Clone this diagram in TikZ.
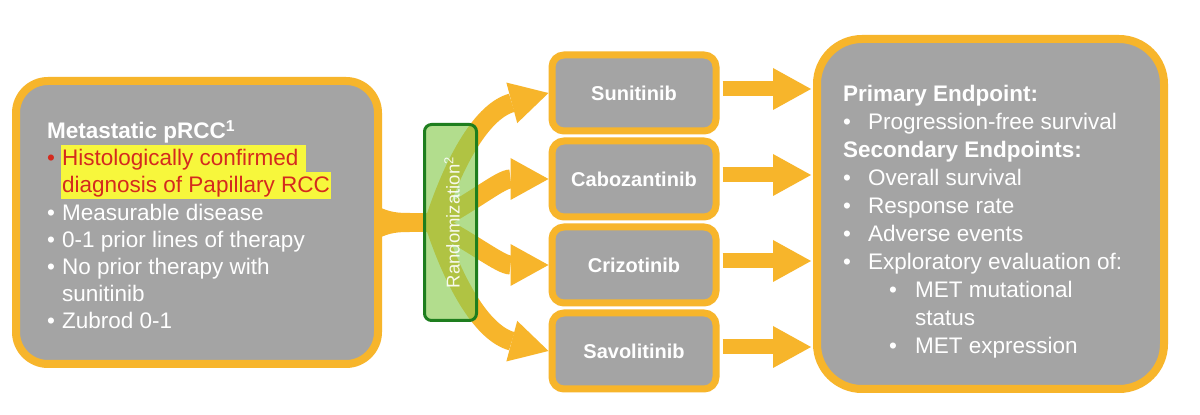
\documentclass[tikz,border=0pt]{standalone}
\usepackage{fontspec}
\setmainfont{Liberation Sans}
\usetikzlibrary{arrows.meta,positioning}
\definecolor{armc}{HTML}{F7B52B}
\definecolor{boxc}{HTML}{A4A4A4}
\definecolor{randc}{HTML}{1E7E1E}
\definecolor{randfill}{HTML}{8ACC51}
\definecolor{hlc}{HTML}{F7F73C}
\definecolor{redc}{HTML}{D42A1E}

\begin{document}
\begin{tikzpicture}[x=1pt,y=1pt,
    bigbox/.style={draw=armc, line width=8pt, fill=boxc, inner sep=0pt},
    drugbox/.style={draw=armc, line width=7pt, fill=boxc, rounded corners=12pt,
      minimum width=164pt, minimum height=76pt, text=white,
      font=\fontsize{20}{22}\selectfont\bfseries},
    randbox/.style={draw=randc, line width=3pt, fill=randfill, fill opacity=0.65,
      rounded corners=7pt, minimum width=52pt, minimum height=196pt},
    fanarrow/.style={armc, line width=19pt,
      -{Triangle[width=42pt,length=38pt,line width=0pt]}},
    endarrow/.style={armc, line width=15pt, shorten >=2pt,
      -{Triangle[width=42pt,length=38pt,line width=0pt]}},
    listtext/.style={text=white, align=left, anchor=north west, inner sep=0pt},
  ]
  \useasboundingbox (0,0) rectangle (1200,415);
  \fill[white] (0,0) rectangle (1200,415);

  % ==========================================================
  %                     PARAMETERS
  % ==========================================================
  \def\lbul{\makebox[15pt][l]{\textbullet}}        % bullet, left box
  \def\rbul{\makebox[25pt][l]{\textbullet}}        % bullet, right box
  \def\subbul{\hspace*{46pt}\makebox[26pt][l]{\textbullet}} % nested bullet
  \def\hilite#1{{\setlength{\fboxsep}{1.5pt}%
    \colorbox{hlc}{\rule[-4pt]{0pt}{23.5pt}\textcolor{redc}{#1}}}}

  % ==========================================================
  %                     BOXES
  % ==========================================================
  % (anchors sit on the outer edge of the thick border)
  \node[bigbox, rounded corners=32pt, minimum width=362pt, minimum height=283pt]
    (elig) at (197,192.5) {};
  \node[listtext, font=\fontsize{22.5}{27.2}\selectfont] (eligtext)
    at ([xshift=35pt,yshift=-43pt]elig.north west) {%
    \textbf{Metastatic pRCC\textsuperscript{1}}\\
    \makebox[13.5pt][l]{\textcolor{redc}{\textbullet}}\hilite{Histologically confirmed }\\
    \hspace*{13.5pt}\hilite{diagnosis of Papillary RCC}\\
    \lbul Measurable disease\\
    \lbul 0-1 prior lines of therapy\\
    \lbul No prior therapy with\\
    \hspace*{15pt}sunitinib\\
    \lbul Zubrod 0-1};

  \node[drugbox] (sun) at (634,322) {Sunitinib};
  \node[drugbox, below=3pt of sun] (cabo) {Cabozantinib};
  \node[drugbox, below=3pt of cabo] (crizo) {Crizotinib};
  \node[drugbox, below=3pt of crizo] (savo) {Savolitinib};

  \node[bigbox, rounded corners=45pt, minimum width=347pt, minimum height=350pt]
    (endp) at (990.5,201) {};
  \node[listtext, font=\fontsize{22.5}{28}\selectfont] (endptext)
    at ([xshift=30pt,yshift=-50pt]endp.north west) {%
    \textbf{Primary Endpoint:}\\
    \rbul Progression-free survival\\
    \textbf{Secondary Endpoints:}\\
    \rbul Overall survival\\
    \rbul Response rate\\
    \rbul Adverse events\\
    \rbul Exploratory evaluation of:\\
    \subbul MET mutational\\
    \hspace*{72pt}status\\
    \subbul MET expression};

  % ==========================================================
  %                     ARROWS
  % ==========================================================
  % flare where the band leaves the left box
  \fill[armc] ([xshift=-4pt,yshift=16pt]elig.east) .. controls +(12pt,-6pt) and +(-12pt,0pt)
    .. ([xshift=28pt,yshift=9.5pt]elig.east) -- ([xshift=28pt,yshift=-9.5pt]elig.east)
    .. controls +(-12pt,0pt) and +(12pt,6pt) .. ([xshift=-4pt,yshift=-16pt]elig.east) -- cycle;
  \coordinate (fork) at ([xshift=52pt]elig.east);
  \draw[armc, line width=19pt] ([xshift=26pt]elig.east) -- (fork);

  \draw[fanarrow] (fork) to[out=72,in=195] (sun.west);
  \draw[fanarrow] (fork) to[out=28,in=180] (cabo.west);
  \draw[fanarrow] (fork) to[out=-28,in=180] (crizo.west);
  \draw[fanarrow] (fork) to[out=-72,in=165] (savo.west);

  \foreach \d in {sun,cabo,crizo,savo} {
    \coordinate (\d out) at ([xshift=3pt,yshift=4pt]\d.east);
    \draw[endarrow] (\d out) -- (\d out -| endp.west);
  }

  % ==========================================================
  %                     RANDOMIZATION
  % ==========================================================
  \node[randbox] (rand) at (450.5,192.5) {};
  \node[rotate=90, text=white, text opacity=0.9, font=\fontsize{18.5}{20}\selectfont]
    (randlabel) at ([xshift=1.5pt]rand.center) {Randomization\textsuperscript{2}};

\end{tikzpicture}
\end{document}
